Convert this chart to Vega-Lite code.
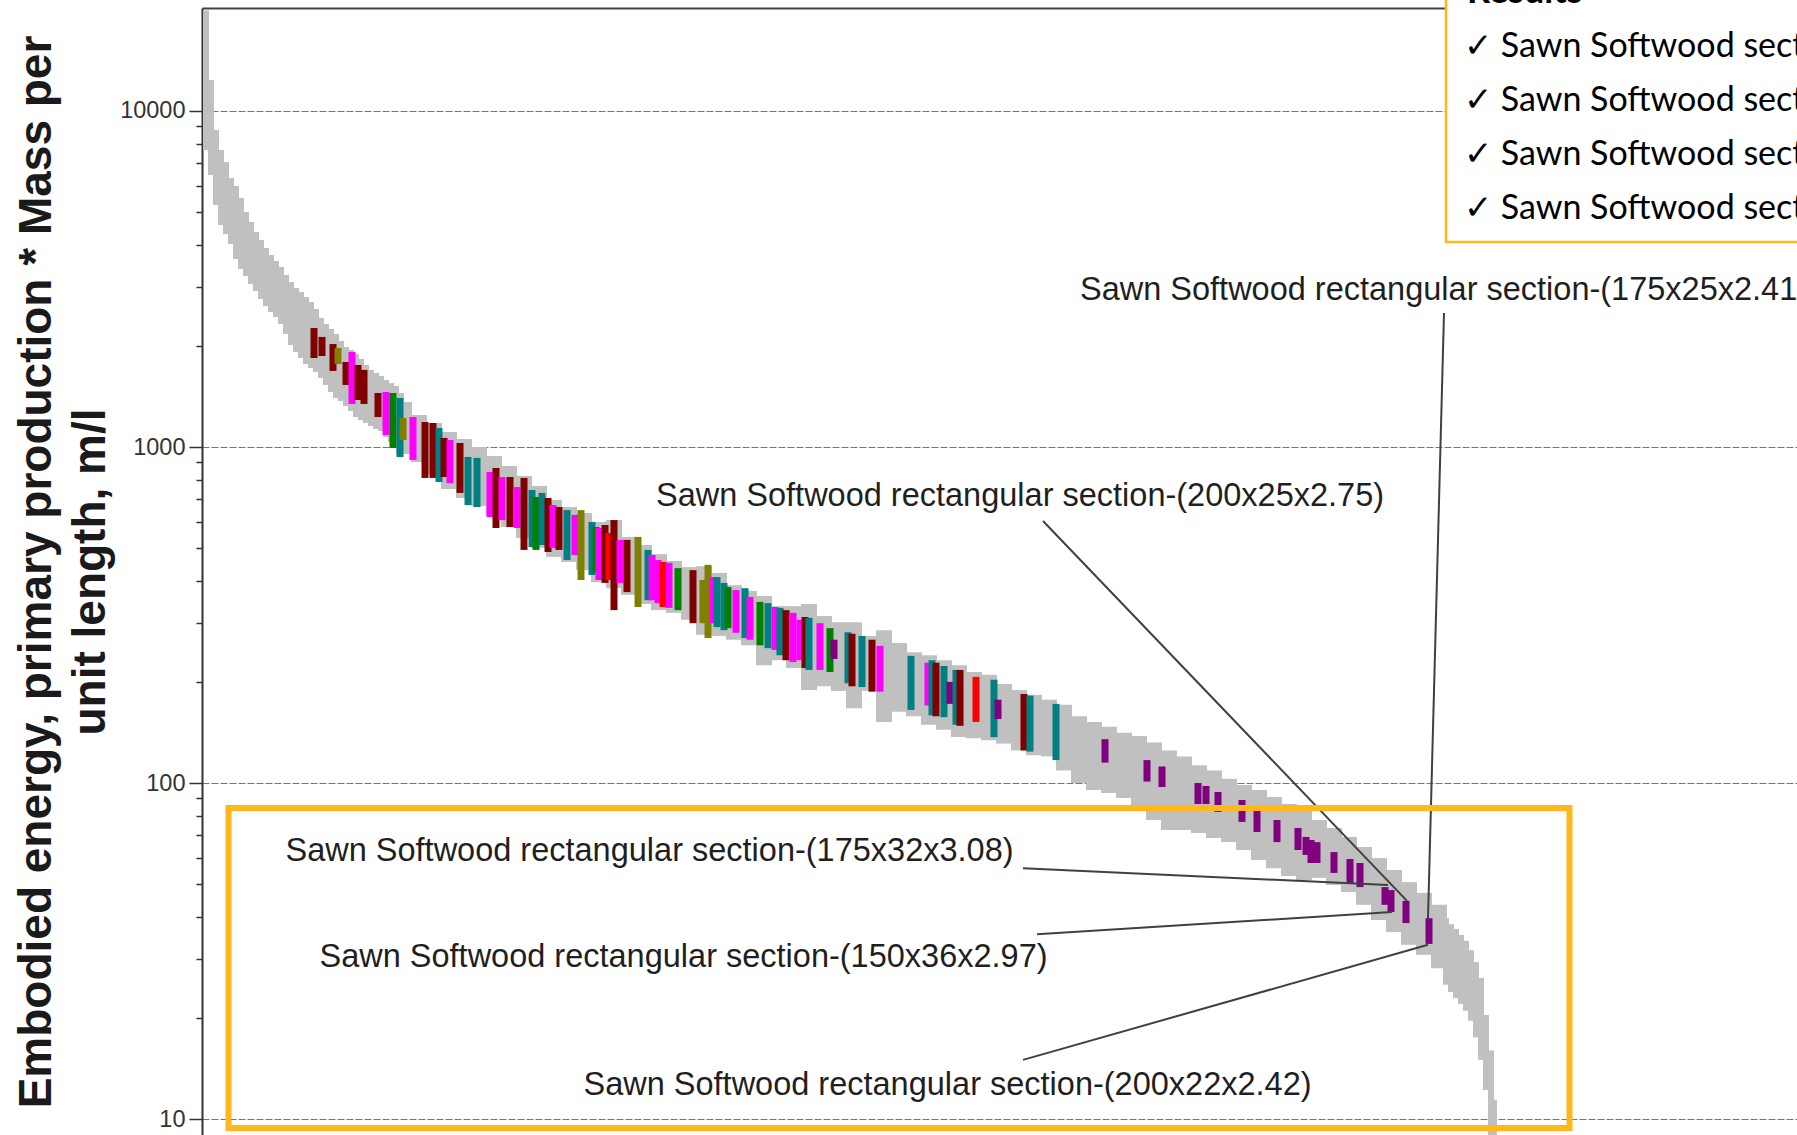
{
  "$schema": "https://vega.github.io/schema/vega-lite/v6.json",
  "width": 1595,
  "height": 1127,
  "autosize": {"type": "none"},
  "padding": {"left": 202, "top": 8, "right": 0, "bottom": 0},
  "background": "white",
  "config": {"view": {"stroke": null}, "font": "Liberation Sans"},
  "datasets": {
    "bandDense": [
      {"pos": 0.8, "hi": 19900, "lo": 7655}, {"pos": 1.8, "hi": 12370, "lo": 6449}, {"pos": 2.8, "hi": 8780, "lo": 5251},
      {"pos": 3.8, "hi": 7655, "lo": 4579}, {"pos": 4.8, "hi": 7049, "lo": 4304}, {"pos": 5.8, "hi": 6318, "lo": 4020},
      {"pos": 6.8, "hi": 5981, "lo": 3627}, {"pos": 7.8, "hi": 5510, "lo": 3387}, {"pos": 8.8, "hi": 5004, "lo": 3228},
      {"pos": 9.8, "hi": 4673, "lo": 3056}, {"pos": 10.8, "hi": 4364, "lo": 2913}, {"pos": 11.8, "hi": 4131, "lo": 2757},
      {"pos": 12.8, "hi": 3911, "lo": 2628}, {"pos": 13.8, "hi": 3728, "lo": 2522}, {"pos": 14.8, "hi": 3577, "lo": 2437},
      {"pos": 15.8, "hi": 3434, "lo": 2323}, {"pos": 16.8, "hi": 3250, "lo": 2169}, {"pos": 17.8, "hi": 3098, "lo": 2012},
      {"pos": 18.8, "hi": 2973, "lo": 1918}, {"pos": 19.8, "hi": 2893, "lo": 1840}, {"pos": 20.8, "hi": 2795, "lo": 1766},
      {"pos": 21.8, "hi": 2701, "lo": 1719}, {"pos": 22.8, "hi": 2575, "lo": 1672}, {"pos": 23.8, "hi": 2421, "lo": 1605},
      {"pos": 24.8, "hi": 2323, "lo": 1530}, {"pos": 25.8, "hi": 2245, "lo": 1458}, {"pos": 26.8, "hi": 2169, "lo": 1399},
      {"pos": 27.8, "hi": 2068, "lo": 1370}, {"pos": 28.8, "hi": 1984, "lo": 1324}, {"pos": 29.8, "hi": 1944, "lo": 1280},
      {"pos": 30.8, "hi": 1891, "lo": 1228}, {"pos": 31.8, "hi": 1828, "lo": 1203}, {"pos": 32.8, "hi": 1754, "lo": 1179},
      {"pos": 33.8, "hi": 1696, "lo": 1155}, {"pos": 34.8, "hi": 1661, "lo": 1131}, {"pos": 35.8, "hi": 1627, "lo": 1116},
      {"pos": 36.8, "hi": 1583, "lo": 1071}, {"pos": 37.8, "hi": 1550, "lo": 1035}, {"pos": 38.8, "hi": 1519, "lo": 1000},
      {"pos": 39.8, "hi": 1448, "lo": 966},
      {"pos": 248.8, "hi": 39.6, "lo": 25.1}, {"pos": 249.8, "hi": 38.0, "lo": 23.9}, {"pos": 250.8, "hi": 36.8, "lo": 22.9},
      {"pos": 251.8, "hi": 35.3, "lo": 22.0}, {"pos": 252.8, "hi": 33.9, "lo": 21.0}, {"pos": 253.8, "hi": 31.8, "lo": 19.6},
      {"pos": 254.8, "hi": 29.3, "lo": 17.5}, {"pos": 255.8, "hi": 26.3, "lo": 15.0}, {"pos": 256.8, "hi": 20.4, "lo": 12.2},
      {"pos": 257.8, "hi": 16.0, "lo": 8.5}, {"pos": 258.4, "hi": 11.4, "lo": 8.5}
    ],
    "band": [
      {"pos": 40.4, "hi": 1361, "lo": 953}, {"pos": 43.4, "hi": 1245, "lo": 902},
      {"pos": 46.4, "hi": 1179, "lo": 831}, {"pos": 49.4, "hi": 1108, "lo": 750}, {"pos": 52.4, "hi": 1056, "lo": 705},
      {"pos": 55.4, "hi": 1000, "lo": 667}, {"pos": 58.4, "hi": 940, "lo": 628}, {"pos": 61.4, "hi": 878, "lo": 578},
      {"pos": 64.4, "hi": 820, "lo": 536}, {"pos": 67.4, "hi": 766, "lo": 501}, {"pos": 70.4, "hi": 696, "lo": 471},
      {"pos": 73.4, "hi": 663, "lo": 455}, {"pos": 76.4, "hi": 636, "lo": 430}, {"pos": 79.4, "hi": 598, "lo": 396},
      {"pos": 82.4, "hi": 606, "lo": 380}, {"pos": 85.4, "hi": 540, "lo": 363}, {"pos": 88.4, "hi": 511, "lo": 341},
      {"pos": 91.4, "hi": 480, "lo": 327}, {"pos": 94.4, "hi": 458, "lo": 321}, {"pos": 97.4, "hi": 439, "lo": 306},
      {"pos": 100.4, "hi": 442, "lo": 276}, {"pos": 103.4, "hi": 422, "lo": 274}, {"pos": 106.4, "hi": 388, "lo": 267},
      {"pos": 109.4, "hi": 373, "lo": 257}, {"pos": 112.4, "hi": 360, "lo": 224}, {"pos": 115.4, "hi": 336, "lo": 232},
      {"pos": 118.4, "hi": 336, "lo": 220}, {"pos": 121.4, "hi": 341, "lo": 189}, {"pos": 124.4, "hi": 314, "lo": 194},
      {"pos": 127.4, "hi": 301, "lo": 188}, {"pos": 130.4, "hi": 301, "lo": 167}, {"pos": 133.4, "hi": 274, "lo": 188},
      {"pos": 136.4, "hi": 285, "lo": 152}, {"pos": 139.4, "hi": 261, "lo": 163}, {"pos": 142.4, "hi": 245, "lo": 158},
      {"pos": 145.4, "hi": 240, "lo": 149}, {"pos": 148.4, "hi": 232, "lo": 144}, {"pos": 151.4, "hi": 224, "lo": 137},
      {"pos": 154.4, "hi": 214, "lo": 136}, {"pos": 157.4, "hi": 210, "lo": 134}, {"pos": 160.4, "hi": 197, "lo": 131},
      {"pos": 163.4, "hi": 189, "lo": 125}, {"pos": 166.4, "hi": 183, "lo": 121}, {"pos": 169.4, "hi": 177, "lo": 120},
      {"pos": 172.4, "hi": 171, "lo": 109}, {"pos": 175.4, "hi": 158, "lo": 100}, {"pos": 178.4, "hi": 152, "lo": 95.3},
      {"pos": 181.4, "hi": 147, "lo": 93.4}, {"pos": 184.4, "hi": 141, "lo": 90.2}, {"pos": 187.4, "hi": 138, "lo": 86.0},
      {"pos": 190.4, "hi": 132, "lo": 77.6}, {"pos": 193.4, "hi": 125, "lo": 72.5}, {"pos": 196.4, "hi": 120, "lo": 72.5},
      {"pos": 199.4, "hi": 113, "lo": 71.0}, {"pos": 202.4, "hi": 109, "lo": 68.6}, {"pos": 205.4, "hi": 103, "lo": 66.7},
      {"pos": 208.4, "hi": 98.6, "lo": 63.2}, {"pos": 211.4, "hi": 95.3, "lo": 59.0}, {"pos": 214.4, "hi": 90.9, "lo": 55.8},
      {"pos": 217.4, "hi": 86.6, "lo": 52.9}, {"pos": 220.4, "hi": 82.5, "lo": 51.4}, {"pos": 223.4, "hi": 77.6, "lo": 52.2},
      {"pos": 226.4, "hi": 73.5, "lo": 49.7}, {"pos": 229.4, "hi": 69.1, "lo": 47.4}, {"pos": 232.4, "hi": 64.5, "lo": 43.4},
      {"pos": 235.4, "hi": 59.8, "lo": 39.1}, {"pos": 238.4, "hi": 55.1, "lo": 36.0}, {"pos": 241.4, "hi": 50.7, "lo": 33.0},
      {"pos": 244.4, "hi": 47.1, "lo": 30.8}, {"pos": 247.4, "hi": 43.4, "lo": 28.1}
    ],
    "highlight": [
      {"pos": 22.4, "hi": 2261, "lo": 1840, "set": "A"}, {"pos": 24, "hi": 2126, "lo": 1866, "set": "A"},
      {"pos": 26.2, "hi": 2025, "lo": 1684, "set": "A"}, {"pos": 27.2, "hi": 1970, "lo": 1766, "set": "D"},
      {"pos": 28.8, "hi": 1791, "lo": 1530, "set": "A"}, {"pos": 30, "hi": 1918, "lo": 1343, "set": "C"},
      {"pos": 31.2, "hi": 1754, "lo": 1380, "set": "A"}, {"pos": 32.4, "hi": 1696, "lo": 1343, "set": "A"},
      {"pos": 35.2, "hi": 1448, "lo": 1228, "set": "A"}, {"pos": 36.8, "hi": 1458, "lo": 1086, "set": "C"},
      {"pos": 38.2, "hi": 1448, "lo": 993, "set": "E"}, {"pos": 39.6, "hi": 1399, "lo": 934, "set": "B"},
      {"pos": 40.2, "hi": 1220, "lo": 1049, "set": "D"}, {"pos": 42.2, "hi": 1228, "lo": 915, "set": "C"},
      {"pos": 44.6, "hi": 1187, "lo": 809, "set": "A"}, {"pos": 46.2, "hi": 1179, "lo": 809, "set": "A"},
      {"pos": 47.4, "hi": 1139, "lo": 787, "set": "B"}, {"pos": 48.4, "hi": 1064, "lo": 814, "set": "A"},
      {"pos": 49.6, "hi": 1049, "lo": 781, "set": "C"}, {"pos": 51.6, "hi": 1028, "lo": 730, "set": "A"},
      {"pos": 53.2, "hi": 934, "lo": 672, "set": "B"}, {"pos": 55, "hi": 928, "lo": 663, "set": "B"},
      {"pos": 57.6, "hi": 843, "lo": 619, "set": "C"}, {"pos": 58.8, "hi": 866, "lo": 574, "set": "A"},
      {"pos": 60, "hi": 814, "lo": 606, "set": "C"}, {"pos": 61.6, "hi": 814, "lo": 578, "set": "A"},
      {"pos": 63, "hi": 760, "lo": 574, "set": "C"}, {"pos": 64.4, "hi": 809, "lo": 494, "set": "A"},
      {"pos": 66, "hi": 745, "lo": 504, "set": "B"}, {"pos": 66.8, "hi": 710, "lo": 494, "set": "E"},
      {"pos": 68, "hi": 730, "lo": 511, "set": "B"}, {"pos": 69.2, "hi": 705, "lo": 487, "set": "A"},
      {"pos": 70.2, "hi": 672, "lo": 501, "set": "C"}, {"pos": 71.4, "hi": 663, "lo": 494, "set": "A"},
      {"pos": 73, "hi": 649, "lo": 461, "set": "B"}, {"pos": 74.6, "hi": 628, "lo": 477, "set": "C"},
      {"pos": 75.8, "hi": 649, "lo": 402, "set": "D"}, {"pos": 78, "hi": 598, "lo": 416, "set": "B"},
      {"pos": 78.8, "hi": 578, "lo": 422, "set": "E"}, {"pos": 79.4, "hi": 574, "lo": 402, "set": "C"},
      {"pos": 80.6, "hi": 586, "lo": 394, "set": "A"}, {"pos": 81.4, "hi": 555, "lo": 402, "set": "F"},
      {"pos": 82.4, "hi": 606, "lo": 327, "set": "A"}, {"pos": 83.6, "hi": 529, "lo": 394, "set": "C"},
      {"pos": 85, "hi": 529, "lo": 370, "set": "A"}, {"pos": 87.2, "hi": 540, "lo": 334, "set": "D"},
      {"pos": 89.2, "hi": 494, "lo": 350, "set": "B"}, {"pos": 90, "hi": 477, "lo": 350, "set": "C"},
      {"pos": 91.2, "hi": 461, "lo": 343, "set": "C"}, {"pos": 92.2, "hi": 455, "lo": 334, "set": "F"},
      {"pos": 93.4, "hi": 452, "lo": 332, "set": "C"}, {"pos": 95.2, "hi": 436, "lo": 327, "set": "E"},
      {"pos": 98.2, "hi": 430, "lo": 299, "set": "A"}, {"pos": 100.2, "hi": 402, "lo": 299, "set": "D"},
      {"pos": 101.2, "hi": 446, "lo": 270, "set": "D"}, {"pos": 102.2, "hi": 410, "lo": 299, "set": "C"},
      {"pos": 103, "hi": 410, "lo": 291, "set": "B"}, {"pos": 104.4, "hi": 394, "lo": 285, "set": "B"},
      {"pos": 105.2, "hi": 383, "lo": 289, "set": "E"}, {"pos": 106.8, "hi": 375, "lo": 280, "set": "C"},
      {"pos": 108.6, "hi": 380, "lo": 270, "set": "B"}, {"pos": 109.6, "hi": 358, "lo": 267, "set": "C"},
      {"pos": 111.6, "hi": 346, "lo": 257, "set": "E"}, {"pos": 113.2, "hi": 343, "lo": 252, "set": "B"},
      {"pos": 114.6, "hi": 334, "lo": 249, "set": "C"}, {"pos": 115.6, "hi": 332, "lo": 240, "set": "B"},
      {"pos": 116.8, "hi": 327, "lo": 232, "set": "A"}, {"pos": 118.2, "hi": 321, "lo": 229, "set": "C"},
      {"pos": 119.6, "hi": 306, "lo": 232, "set": "C"}, {"pos": 120.6, "hi": 312, "lo": 220, "set": "A"},
      {"pos": 121.4, "hi": 310, "lo": 217, "set": "B"}, {"pos": 123.6, "hi": 299, "lo": 217, "set": "C"},
      {"pos": 125.6, "hi": 289, "lo": 214, "set": "E"}, {"pos": 126.4, "hi": 267, "lo": 234, "set": "G"},
      {"pos": 129.2, "hi": 281, "lo": 198, "set": "B"}, {"pos": 130, "hi": 278, "lo": 194, "set": "A"},
      {"pos": 132, "hi": 274, "lo": 193, "set": "B"}, {"pos": 134, "hi": 267, "lo": 187, "set": "A"},
      {"pos": 135.6, "hi": 256, "lo": 187, "set": "C"}, {"pos": 141.8, "hi": 239, "lo": 165, "set": "B"},
      {"pos": 145.2, "hi": 228, "lo": 170, "set": "C"}, {"pos": 146, "hi": 232, "lo": 159, "set": "B"},
      {"pos": 146.8, "hi": 228, "lo": 158, "set": "A"}, {"pos": 148.4, "hi": 223, "lo": 157, "set": "B"},
      {"pos": 149.6, "hi": 200, "lo": 172, "set": "G"}, {"pos": 150.8, "hi": 217, "lo": 149, "set": "B"},
      {"pos": 151.6, "hi": 217, "lo": 148, "set": "A"}, {"pos": 154.8, "hi": 207, "lo": 152, "set": "F"},
      {"pos": 158.4, "hi": 203, "lo": 137, "set": "B"}, {"pos": 159.2, "hi": 177, "lo": 155, "set": "G"},
      {"pos": 164.4, "hi": 184, "lo": 125, "set": "A"}, {"pos": 165.6, "hi": 182, "lo": 124, "set": "B"},
      {"pos": 170.8, "hi": 172, "lo": 117, "set": "B"}, {"pos": 180.6, "hi": 135, "lo": 115, "set": "G"},
      {"pos": 189, "hi": 117, "lo": 101, "set": "G"}, {"pos": 192, "hi": 112, "lo": 97.3, "set": "G"},
      {"pos": 199.2, "hi": 100, "lo": 86.6, "set": "G"}, {"pos": 200.8, "hi": 98.0, "lo": 86.6, "set": "G"},
      {"pos": 203.2, "hi": 94.0, "lo": 82.0, "set": "G"}, {"pos": 208, "hi": 89.0, "lo": 76.6, "set": "G"},
      {"pos": 211, "hi": 83.7, "lo": 71.5, "set": "G"}, {"pos": 215, "hi": 77.6, "lo": 66.7, "set": "G"},
      {"pos": 219.2, "hi": 73.5, "lo": 63.2, "set": "G"}, {"pos": 220.8, "hi": 69.1, "lo": 61.1, "set": "G"},
      {"pos": 221.8, "hi": 67.7, "lo": 57.8, "set": "G"}, {"pos": 223, "hi": 66.7, "lo": 57.8, "set": "G"},
      {"pos": 226.4, "hi": 62.3, "lo": 54.0, "set": "G"}, {"pos": 229.6, "hi": 59.4, "lo": 50.4, "set": "G"},
      {"pos": 231.6, "hi": 57.8, "lo": 49.0, "set": "G"}, {"pos": 236.6, "hi": 49.0, "lo": 43.4, "set": "G"},
      {"pos": 237.8, "hi": 48.0, "lo": 41.3, "set": "G"}, {"pos": 240.8, "hi": 44.6, "lo": 38.3, "set": "G"},
      {"pos": 245.4, "hi": 39.6, "lo": 33.2, "set": "G"}
    ],
    "leaders": [
      {"x1": 248.4, "y1": 2505, "x2": 245.2, "y2": 39.6},
      {"x1": 168.2, "y1": 602, "x2": 241, "y2": 44.6},
      {"x1": 164.2, "y1": 55.8, "x2": 237.2, "y2": 49.7},
      {"x1": 167, "y1": 35.5, "x2": 238, "y2": 41.3},
      {"x1": 164.2, "y1": 15.0, "x2": 245.2, "y2": 33.0}
    ],
    "labels": [
      {"pos": 175.6, "val": 2738, "text": "Sawn Softwood rectangular section-(175x25x2.41)"},
      {"pos": 90.8, "val": 667, "text": "Sawn Softwood rectangular section-(200x25x2.75)"},
      {"pos": 16.7, "val": 58.6, "text": "Sawn Softwood rectangular section-(175x32x3.08)"},
      {"pos": 23.5, "val": 28.3, "text": "Sawn Softwood rectangular section-(150x36x2.97)"},
      {"pos": 76.3, "val": 11.8, "text": "Sawn Softwood rectangular section-(200x22x2.42)"}
    ],
    "frame": [{"x1": 5.3, "x2": 273.5, "y1": 84.3, "y2": 9.4}],
    "resultsBox": [{"x1": 248.8, "x2": 340, "y1": 4075, "y2": 100000}],
    "resultsHead": [{"pos": 253, "val": 20960, "text": "Results"}],
    "results": [
      {"pos": 252.4, "val": 14480, "text": "✓ Sawn Softwood section-(175x25x2.41)"},
      {"pos": 252.4, "val": 10000, "text": "✓ Sawn Softwood section-(200x22x2.42)"},
      {"pos": 252.4, "val": 6906, "text": "✓ Sawn Softwood section-(150x36x2.97)"},
      {"pos": 252.4, "val": 4770, "text": "✓ Sawn Softwood section-(175x32x3.08)"}
    ]
  },
  "layer": [
    {
      "data": {"name": "band"},
      "mark": {"type": "rule", "stroke": "#C0C0C0", "strokeWidth": 16},
      "encoding": {
        "x": {"field": "pos", "type": "quantitative",
              "scale": {"domain": [0, 319], "nice": false, "zero": false},
              "axis": {"orient": "top", "labels": false, "ticks": false, "grid": false, "title": null, "domainColor": "#444444", "domainWidth": 2}},
        "y": {"field": "hi", "type": "quantitative",
              "scale": {"type": "log", "domain": [8.963, 20254], "nice": false},
              "axis": {
                "values": [10, 20, 30, 40, 50, 60, 70, 80, 90, 100, 200, 300, 400, 500, 600, 700, 800, 900, 1000, 2000, 3000, 4000, 5000, 6000, 7000, 8000, 9000, 10000],
                "labelExpr": "indexof([10,100,1000,10000], datum.value) >= 0 ? format(datum.value, 'd') : ''",
                "labelFont": "Liberation Sans", "labelFontSize": 23.5, "labelColor": "#333333", "labelPadding": 4,
                "tickSize": {"condition": {"test": "indexof([10,100,1000,10000], datum.value) >= 0", "value": 13}, "value": 6},
                "tickColor": "#333333", "tickWidth": 1.5,
                "grid": true,
                "gridOpacity": {"condition": {"test": "indexof([10,100,1000,10000], datum.value) >= 0", "value": 1}, "value": 0},
                "gridColor": "#777777", "gridDash": [7, 2], "gridWidth": 1.2,
                "domainColor": "#333333", "domainWidth": 2,
                "title": ["Embodied energy, primary production * Mass per", "unit length, m/l"],
                "titleFont": "Liberation Sans", "titleFontSize": 46, "titleFontWeight": "bold", "titleColor": "#1a1a1a",
                "titleLineHeight": 54, "titlePadding": 5
              }},
        "y2": {"field": "lo"}
      }
    },
    {
      "data": {"name": "bandDense"},
      "mark": {"type": "rule", "stroke": "#C0C0C0", "strokeWidth": 6},
      "encoding": {
        "x": {"field": "pos", "type": "quantitative", "scale": {"domain": [0, 319], "nice": false, "zero": false}},
        "y": {"field": "hi", "type": "quantitative", "scale": {"type": "log", "domain": [8.963, 20254], "nice": false}},
        "y2": {"field": "lo"}
      }
    },
    {
      "data": {"name": "highlight"},
      "mark": {"type": "rule", "strokeWidth": 7},
      "encoding": {
        "x": {"field": "pos", "type": "quantitative", "scale": {"domain": [0, 319], "nice": false, "zero": false}},
        "y": {"field": "hi", "type": "quantitative", "scale": {"type": "log", "domain": [8.963, 20254], "nice": false}},
        "y2": {"field": "lo"},
        "color": {"field": "set", "type": "nominal", "legend": null,
                  "scale": {"domain": ["A", "B", "C", "D", "E", "F", "G"],
                            "range": ["#800000", "#008080", "#FF00FF", "#808000", "#008000", "#FF0000", "#800080"]}}
      }
    },
    {
      "data": {"name": "leaders"},
      "mark": {"type": "rule", "stroke": "#404040", "strokeWidth": 2},
      "encoding": {
        "x": {"field": "x1", "type": "quantitative", "scale": {"domain": [0, 319], "nice": false, "zero": false}},
        "x2": {"field": "x2"},
        "y": {"field": "y1", "type": "quantitative", "scale": {"type": "log", "domain": [8.963, 20254], "nice": false}},
        "y2": {"field": "y2"}
      }
    },
    {
      "data": {"name": "labels"},
      "mark": {"type": "text", "align": "left", "baseline": "alphabetic", "font": "Liberation Sans", "fontSize": 32.5, "color": "#1f1f1f"},
      "encoding": {
        "x": {"field": "pos", "type": "quantitative", "scale": {"domain": [0, 319], "nice": false, "zero": false}},
        "y": {"field": "val", "type": "quantitative", "scale": {"type": "log", "domain": [8.963, 20254], "nice": false}},
        "text": {"field": "text"}
      }
    },
    {
      "data": {"name": "frame"},
      "mark": {"type": "rect", "filled": false, "stroke": "#FFB71C", "strokeWidth": 6},
      "encoding": {
        "x": {"field": "x1", "type": "quantitative", "scale": {"domain": [0, 319], "nice": false, "zero": false}},
        "x2": {"field": "x2"},
        "y": {"field": "y1", "type": "quantitative", "scale": {"type": "log", "domain": [8.963, 20254], "nice": false}},
        "y2": {"field": "y2"}
      }
    },
    {
      "data": {"name": "resultsBox"},
      "mark": {"type": "rect", "fill": "#FFFFFF", "stroke": "#FFB71C", "strokeWidth": 2.5},
      "encoding": {
        "x": {"field": "x1", "type": "quantitative", "scale": {"domain": [0, 319], "nice": false, "zero": false}},
        "x2": {"field": "x2"},
        "y": {"field": "y1", "type": "quantitative", "scale": {"type": "log", "domain": [8.963, 20254], "nice": false}},
        "y2": {"field": "y2"}
      }
    },
    {
      "data": {"name": "resultsHead"},
      "mark": {"type": "text", "align": "left", "baseline": "alphabetic", "font": "Lato", "fontWeight": "bold", "fontSize": 36, "color": "#000000"},
      "encoding": {
        "x": {"field": "pos", "type": "quantitative", "scale": {"domain": [0, 319], "nice": false, "zero": false}},
        "y": {"field": "val", "type": "quantitative", "scale": {"type": "log", "domain": [8.963, 20254], "nice": false}},
        "text": {"field": "text"}
      }
    },
    {
      "data": {"name": "results"},
      "mark": {"type": "text", "align": "left", "baseline": "alphabetic", "font": "Lato", "fontSize": 34, "color": "#000000"},
      "encoding": {
        "x": {"field": "pos", "type": "quantitative", "scale": {"domain": [0, 319], "nice": false, "zero": false}},
        "y": {"field": "val", "type": "quantitative", "scale": {"type": "log", "domain": [8.963, 20254], "nice": false}},
        "text": {"field": "text"}
      }
    }
  ]
}
